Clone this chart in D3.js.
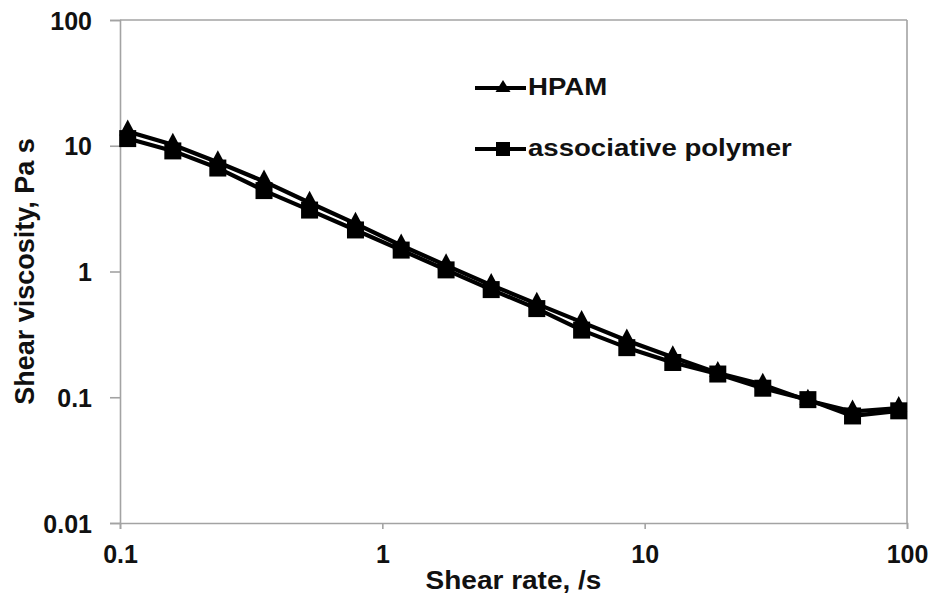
<!DOCTYPE html>
<html>
<head>
<meta charset="utf-8">
<script src="https://cdn.jsdelivr.net/npm/d3@7/dist/d3.min.js"></script>
<style>
  html, body { margin: 0; padding: 0; background: #fff; }
  svg { display: block; }
  text { font-family: Arial, "Liberation Sans", sans-serif; font-weight: bold; fill: #111; }
</style>
</head>
<body>
<svg id="chart" width="935" height="603"></svg>
<script>
// Shear rate (1/s) at each measurement point
const shearRate = [0.107, 0.159, 0.236, 0.354, 0.528, 0.79, 1.18, 1.75, 2.6, 3.88, 5.75, 8.55, 12.8, 19, 28.2, 41.9, 62, 93];
// Shear viscosity (Pa s) for each polymer
const hpam        = [13.0, 10.2, 7.4, 5.2, 3.52, 2.40, 1.61, 1.12, 0.78, 0.553, 0.396, 0.283, 0.208, 0.156, 0.126, 0.094, 0.077, 0.082];
const associative = [11.4, 9.1, 6.65, 4.4, 3.08, 2.14, 1.48, 1.03, 0.718, 0.507, 0.342, 0.248, 0.189, 0.153, 0.118, 0.0957, 0.071, 0.078];

const xTicks = [0.1, 1, 10, 100];
const xTickLabels = ["0.1", "1", "10", "100"];
const yTicks = [0.01, 0.1, 1, 10, 100];
const yTickLabels = ["0.01", "0.1", "1", "10", "100"];

const seriesNames = ["HPAM", "associative polymer"];

const svg = d3.select("#chart");
const plot = { left: 120, right: 907, top: 20, bottom: 523 };

const x = d3.scaleLog().domain([0.1, 100]).range([plot.left, plot.right]);
const y = d3.scaleLog().domain([0.01, 100]).range([plot.bottom, plot.top]);

const axisColor = "#a3a3a3";

// frame: top and right edges
svg.append("line").attr("x1", plot.left).attr("x2", plot.right).attr("y1", plot.top).attr("y2", plot.top)
  .attr("stroke", axisColor).attr("stroke-width", 1.6);
svg.append("line").attr("x1", plot.right).attr("x2", plot.right).attr("y1", plot.top).attr("y2", plot.bottom)
  .attr("stroke", axisColor).attr("stroke-width", 1.6);

// axes
const xAxis = svg.append("g").attr("transform", `translate(0,${plot.bottom})`)
  .call(d3.axisBottom(x).tickValues(xTicks).tickFormat((d, i) => xTickLabels[i]).tickSize(6).tickPadding(16));
const yAxis = svg.append("g").attr("transform", `translate(${plot.left},0)`)
  .call(d3.axisLeft(y).tickValues(yTicks).tickFormat((d, i) => yTickLabels[i]).tickSize(10).tickPadding(18));

[xAxis, yAxis].forEach(g => {
  g.select(".domain").attr("stroke", axisColor).attr("stroke-width", 1.6);
  g.selectAll(".tick line").attr("stroke", axisColor).attr("stroke-width", 1.6);
  g.selectAll(".tick text").attr("font-size", 25).attr("font-family", "Arial, 'Liberation Sans', sans-serif")
    .attr("font-weight", "bold").attr("fill", "#111");
});
xAxis.selectAll(".tick text").attr("dy", "0.7em");
yAxis.selectAll(".tick text").attr("dy", "0.36em");

// axis titles (set slightly wide)
svg.append("text").attr("transform", `translate(${(plot.left + plot.right) / 2},589) scale(1.12,1)`)
  .attr("text-anchor", "middle").attr("font-size", 25).text("Shear rate, /s");
svg.append("text").attr("transform", `translate(34,${(plot.top + plot.bottom) / 2}) rotate(-90)`)
  .attr("text-anchor", "middle").attr("font-size", 27).text("Shear viscosity, Pa s");

const line = d3.line().x(d => x(d[0])).y(d => y(d[1]));

const triPath = "M0,-12 L8.5,4 L-8.5,4 Z";
const sq = 17;

const seriesData = [
  { name: seriesNames[0], values: shearRate.map((r, i) => [r, hpam[i]]), marker: "tri" },
  { name: seriesNames[1], values: shearRate.map((r, i) => [r, associative[i]]), marker: "sq" }
];

seriesData.forEach(s => {
  svg.append("path").datum(s.values).attr("d", line)
    .attr("fill", "none").attr("stroke", "#000").attr("stroke-width", 4.2).attr("stroke-linejoin", "round");
});
seriesData.forEach(s => {
  const g = svg.append("g");
  if (s.marker === "tri") {
    g.selectAll("path").data(s.values).join("path")
      .attr("transform", d => `translate(${x(d[0])},${y(d[1])})`)
      .attr("d", triPath).attr("fill", "#000");
  } else {
    g.selectAll("rect").data(s.values).join("rect")
      .attr("x", d => x(d[0]) - sq / 2).attr("y", d => y(d[1]) - sq / 2)
      .attr("width", sq).attr("height", sq).attr("fill", "#000");
  }
});

// legend
const legend = svg.append("g");
const legRows = [{ y: 88, marker: "tri" }, { y: 149, marker: "sq" }];
legRows.forEach((r, i) => {
  legend.append("line").attr("x1", 475).attr("x2", 526).attr("y1", r.y).attr("y2", r.y)
    .attr("stroke", "#000").attr("stroke-width", 4);
  if (r.marker === "tri") {
    legend.append("path").attr("transform", `translate(503,${r.y})`).attr("d", "M0,-8 L7.5,4 L-7.5,4 Z").attr("fill", "#000");
  } else {
    legend.append("rect").attr("x", 496).attr("y", r.y - 7).attr("width", 14).attr("height", 14).attr("fill", "#000");
  }
  legend.append("text").attr("transform", `translate(528,${r.y + 7}) scale(1.2,1)`)
    .attr("font-size", 23).text(seriesNames[i]);
});
</script>
</body>
</html>
